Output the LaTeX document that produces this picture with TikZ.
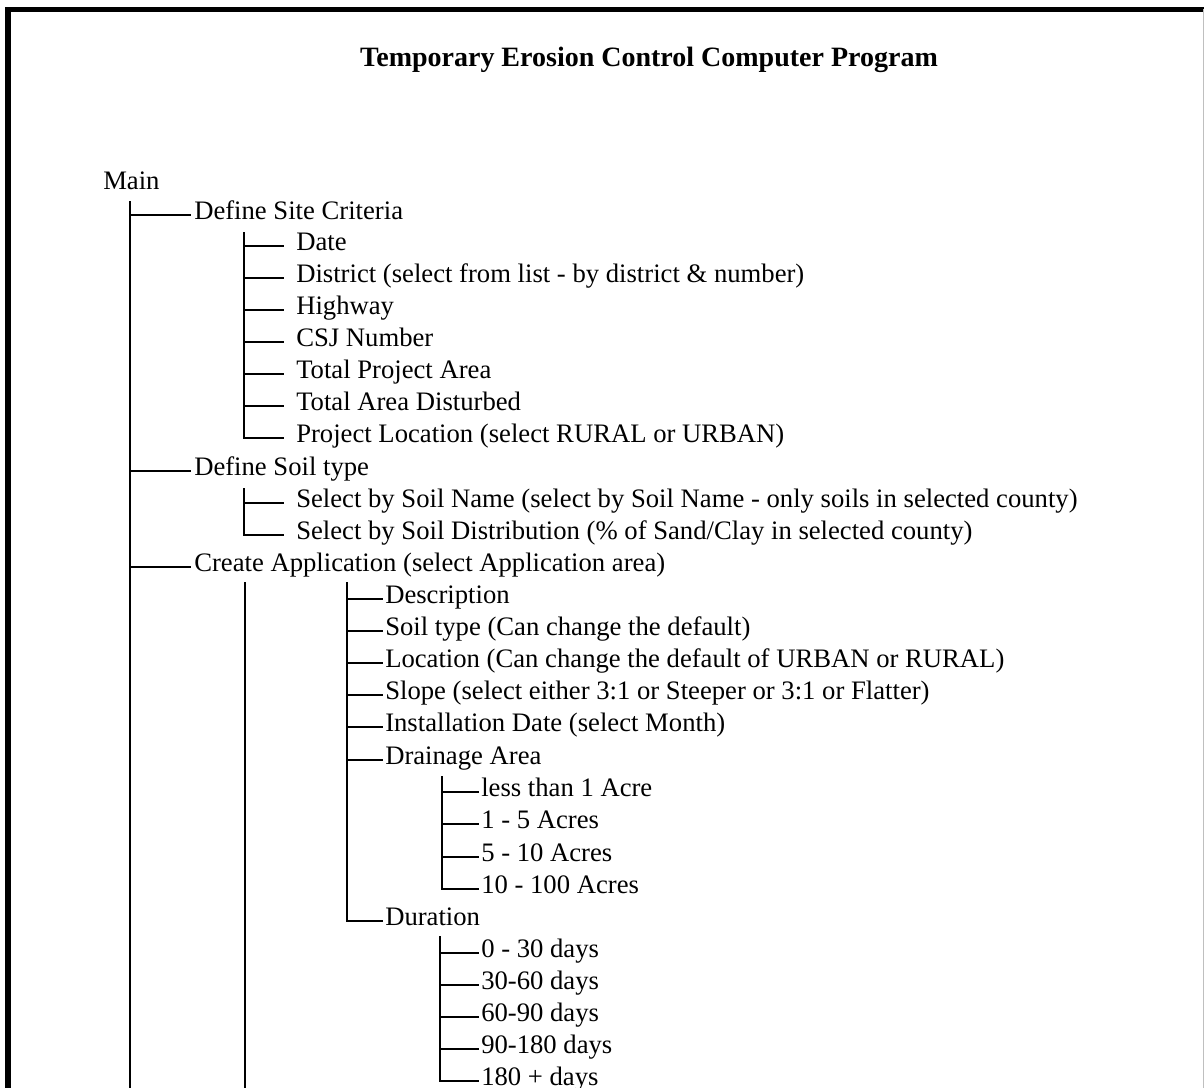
\documentclass[tikz,border=0pt]{standalone}
\usepackage{fontspec}
\setmainfont{Liberation Serif}
\begin{document}
\begin{tikzpicture}[x=0.75pt,y=-0.75pt,
  item/.style={anchor=west,inner sep=0pt,text height=0.66em,text depth=0pt,font=\fontsize{20}{24}\selectfont},
  titlestyle/.style={inner sep=0pt,font=\fontsize{21}{25}\selectfont\bfseries},
  wire/.style={line width=1.6pt,black},
  framel/.style={line width=3.8pt,black}]
\useasboundingbox (0,0) rectangle (1204,1088);
% frame
\draw[framel] (8,1088) -- (8,9.5) -- (1204,9.5);
\draw[line width=0.6pt,black!25] (1203,9.5) -- (1203,1088);
\begin{scope}[yshift=-3pt]
% title
\node[titlestyle] (title) at (649,56) {Temporary Erosion Control Computer Program};
% root
\node[item] (main) at (103,181) {Main};
% level 1
\node[item] (dsc) at (194,211) {Define Site Criteria};
\node[item] (dst) at (194,467) {Define Soil type};
\node[item] (ca) at (194,563) {Create Application (select Application area)};
\coordinate (b1) at (130,197);
\coordinate (b1end) at (130,1100);
\draw[wire] (b1) -- (b1end);
\foreach \n in {dsc,dst,ca} \draw[wire] (b1) |- ([xshift=-2pt]\n.west);
% site criteria
\node[item] (date) at (296,242) {Date};
\node[item] (dist) at (296,274) {District (select from list - by district \& number)};
\node[item] (hwy) at (296,306) {Highway};
\node[item] (csj) at (296,338) {CSJ Number};
\node[item] (tpa) at (296,370) {Total Project Area};
\node[item] (tad) at (296,402) {Total Area Disturbed};
\node[item] (pl) at (296,434) {Project Location (select RURAL or URBAN)};
\coordinate (b2) at (244,228);
\foreach \n in {date,dist,hwy,csj,tpa,tad,pl} \draw[wire] (b2) |- ([xshift=-9pt]\n.west);
% soil
\node[item] (ssn) at (296,499) {Select by Soil Name (select by Soil Name - only soils in selected county)};
\node[item] (ssd) at (296,531) {Select by Soil Distribution (\% of Sand/Clay in selected county)};
\coordinate (b3) at (244,484);
\foreach \n in {ssn,ssd} \draw[wire] (b3) |- ([xshift=-9pt]\n.west);
% create application
\coordinate (b4) at (245,578);
\coordinate (b4end) at (245,1100);
\draw[wire] (b4) -- (b4end);
\node[item] (desc) at (385,595) {Description};
\node[item] (soil) at (385,627) {Soil type (Can change the default)};
\node[item] (loc) at (385,659) {Location (Can change the default of URBAN or RURAL)};
\node[item] (slope) at (385,691) {Slope (select either 3:1 or Steeper or 3:1 or Flatter)};
\node[item] (inst) at (385,723) {Installation Date (select Month)};
\node[item] (drain) at (385,756) {Drainage Area};
\node[item] (dur) at (385,917) {Duration};
\coordinate (b5) at (347,578);
\foreach \n in {desc,soil,loc,slope,inst,drain,dur} \draw[wire] (b5) |- ([xshift=-1.5pt]\n.west);
% drainage
\node[item] (d1) at (481,788) {less than 1 Acre};
\node[item] (d2) at (481,820) {1 - 5 Acres};
\node[item] (d3) at (481,853) {5 - 10 Acres};
\node[item] (d4) at (481,885) {10 - 100 Acres};
\coordinate (b6) at (442,772);
\foreach \n in {d1,d2,d3,d4} \draw[wire] (b6) |- ([xshift=-1.5pt]\n.west);
% duration
\node[item] (t1) at (481,949) {0 - 30 days};
\node[item] (t2) at (481,981) {30-60 days};
\node[item] (t3) at (481,1013) {60-90 days};
\node[item] (t4) at (481,1045) {90-180 days};
\node[item] (t5) at (481,1077) {180 + days};
\coordinate (b7) at (440,932);
\foreach \n in {t1,t2,t3,t4,t5} \draw[wire] (b7) |- ([xshift=-1.5pt]\n.west);
\end{scope}
\end{tikzpicture}
\end{document}
